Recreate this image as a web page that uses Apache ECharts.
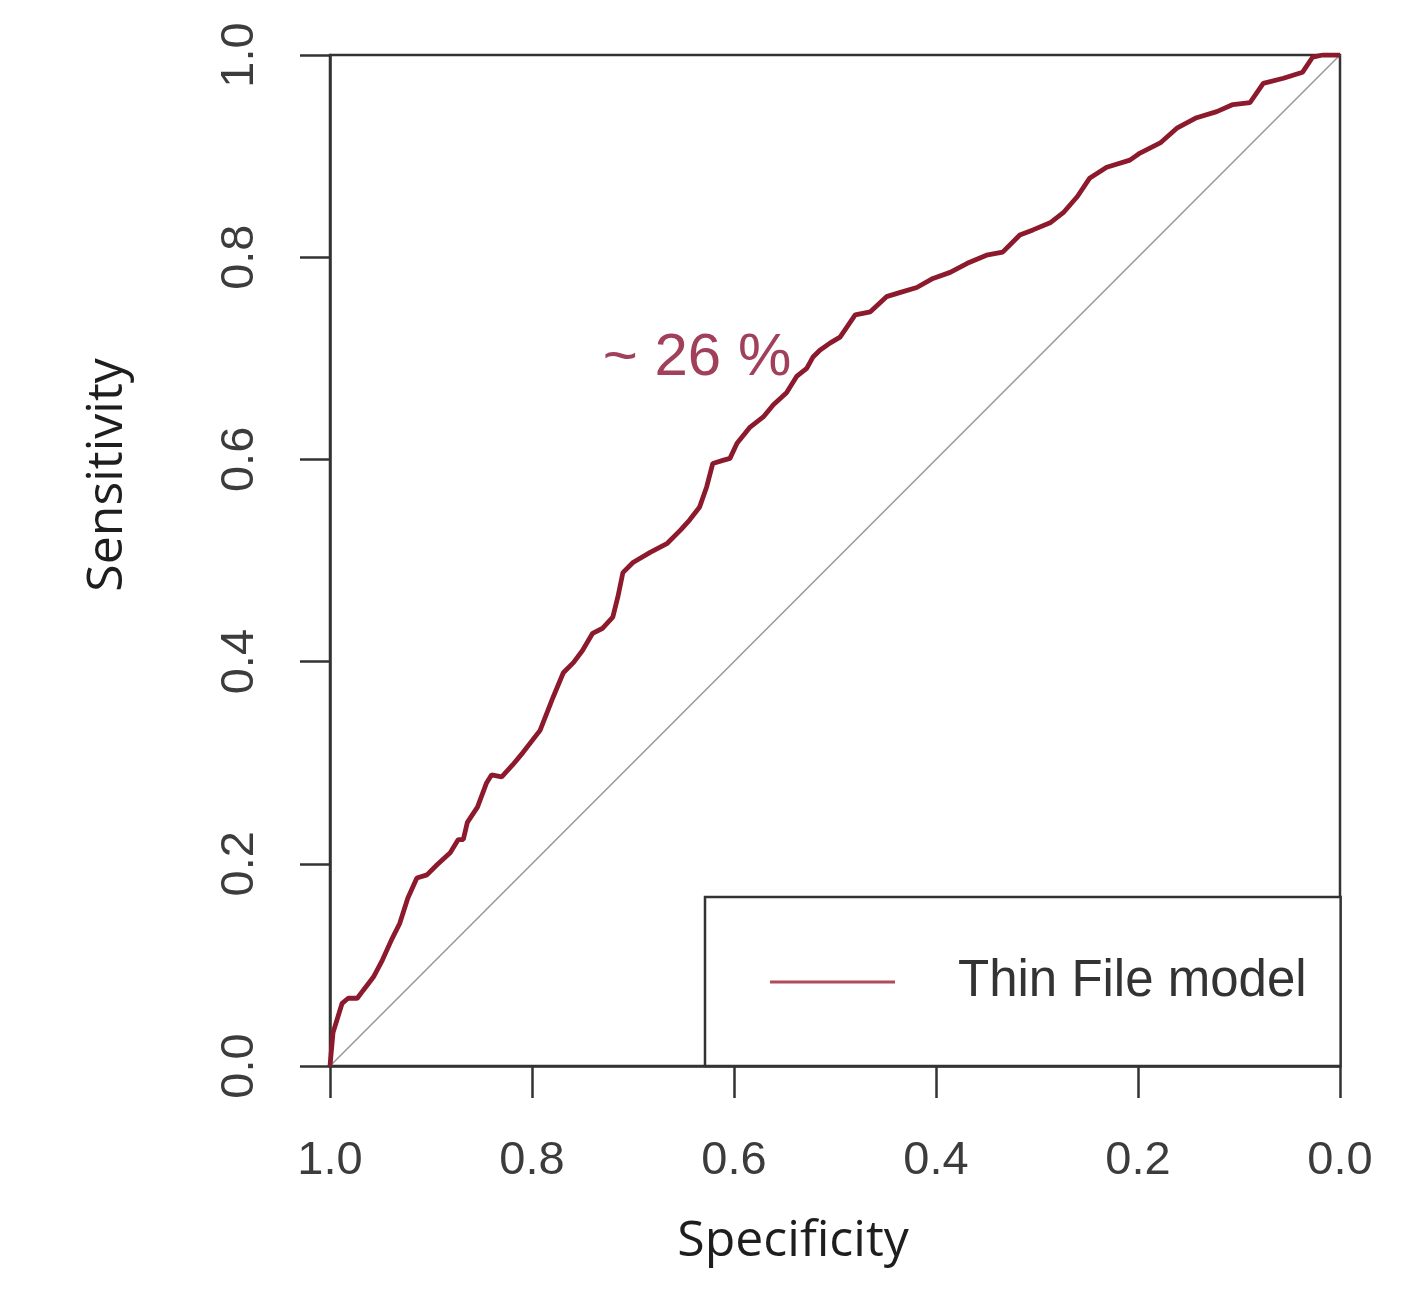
<!DOCTYPE html>
<html>
<head>
<meta charset="utf-8">
<script src="https://cdn.jsdelivr.net/npm/echarts@6/dist/echarts.min.js"></script>
<style>
html,body{margin:0;padding:0;background:#fff;}
#chart{width:1424px;height:1296px;}
</style>
</head>
<body>
<div id="chart"></div>
<script>
// ROC curve points
const specificity = [1.000,0.997,0.988,0.982,0.973,0.967,0.957,0.948,0.939,0.931,0.923,0.914,0.904,0.894,0.881,0.873,0.868,0.864,0.854,0.845,0.840,0.830,0.819,0.809,0.792,0.779,0.769,0.759,0.750,0.740,0.730,0.720,0.715,0.710,0.700,0.683,0.666,0.653,0.644,0.634,0.627,0.621,0.611,0.604,0.597,0.584,0.571,0.561,0.548,0.538,0.528,0.522,0.515,0.505,0.495,0.480,0.465,0.449,0.436,0.419,0.403,0.386,0.369,0.350,0.334,0.317,0.304,0.287,0.274,0.260,0.248,0.231,0.208,0.198,0.178,0.161,0.142,0.122,0.106,0.089,0.076,0.056,0.037,0.027,0.017,0.000];
const sensitivity = [0.000,0.033,0.062,0.067,0.067,0.075,0.088,0.105,0.125,0.141,0.166,0.186,0.189,0.199,0.211,0.224,0.224,0.241,0.256,0.280,0.288,0.286,0.298,0.310,0.332,0.365,0.389,0.399,0.411,0.428,0.433,0.444,0.464,0.488,0.498,0.508,0.517,0.530,0.540,0.553,0.573,0.596,0.599,0.601,0.616,0.632,0.642,0.654,0.666,0.682,0.690,0.701,0.708,0.715,0.721,0.743,0.746,0.761,0.765,0.770,0.779,0.785,0.794,0.802,0.805,0.822,0.827,0.834,0.844,0.860,0.878,0.889,0.896,0.903,0.913,0.928,0.938,0.944,0.951,0.953,0.972,0.977,0.983,0.998,1.000,1.000];
const chanceSpec = [1, 0];
const chanceSens = [0, 1];
const tickValues = [0, 0.2, 0.4, 0.6, 0.8, 1.0];
const seriesName = 'Thin File model';
const annotation = '~ 26 %';
const xTitle = 'Specificity';
const yTitle = 'Sensitivity';

const rocData = specificity.map((s, i) => [s, sensitivity[i]]);
const chanceData = chanceSpec.map((s, i) => [s, chanceSens[i]]);

const axisColor = '#333';
const chart = echarts.init(document.getElementById('chart'));
chart.setOption({
  backgroundColor: '#ffffff',
  animation: false,
  grid: {
    left: 330, top: 55, width: 1010, height: 1011,
    show: true, borderColor: axisColor, borderWidth: 2.5, backgroundColor: 'transparent'
  },
  xAxis: {
    type: 'value', min: 0, max: 1, interval: 0.2, inverse: true, position: 'bottom',
    axisLine: { show: true, onZero: false, lineStyle: { color: axisColor, width: 2.5 } },
    axisTick: { show: true, length: 32, lineStyle: { color: axisColor, width: 2.5 } },
    axisLabel: {
      margin: 72, fontSize: 47, color: '#3c3c3c', fontFamily: 'Liberation Sans',
      formatter: v => v.toFixed(1)
    },
    splitLine: { show: false }
  },
  yAxis: {
    type: 'value', min: 0, max: 1, interval: 0.2, position: 'left',
    axisLine: { show: true, onZero: false, lineStyle: { color: axisColor, width: 2.5 } },
    axisTick: { show: true, length: 30, lineStyle: { color: axisColor, width: 2.5 } },
    axisLabel: {
      margin: 66, fontSize: 47, color: '#3c3c3c', fontFamily: 'Liberation Sans',
      rotate: 90, formatter: v => v.toFixed(1)
    },
    splitLine: { show: false }
  },
  legend: {
    data: [{ name: seriesName, icon: 'rect' }],
    left: 705, top: 897,
    orient: 'horizontal',
    borderColor: axisColor, borderWidth: 2.5, borderRadius: 0,
    backgroundColor: '#fff',
    padding: [54, 34, 53, 65],
    itemWidth: 125, itemHeight: 3,
    itemStyle: { color: '#b04a5e', borderWidth: 0 },
    textStyle: {
      fontSize: 51, fontFamily: 'Liberation Sans', color: '#333',
      lineHeight: 62, padding: [0, 0, 0, 58]
    }
  },
  series: [
    {
      name: 'chance', type: 'line', data: chanceData, symbol: 'none',
      lineStyle: { color: '#9a9a9a', width: 1.6 }, silent: true, z: 1
    },
    {
      name: seriesName, type: 'line', data: rocData, symbol: 'none',
      lineStyle: { color: '#8c1a2c', width: 4.8 }, z: 3
    }
  ],
  graphic: [
    {
      type: 'text', x: 697, y: 358,
      style: {
        text: annotation, fill: '#a0405a', font: '60px "Liberation Sans"',
        textAlign: 'center', textVerticalAlign: 'middle'
      }
    },
    {
      type: 'text', x: 793, y: 1242,
      style: {
        text: xTitle, fill: '#1e1e1e', font: '50px "Open Sans"',
        textAlign: 'center', textVerticalAlign: 'middle'
      }
    },
    {
      type: 'text', x: 108, y: 475, rotation: Math.PI / 2,
      style: {
        text: yTitle, fill: '#1e1e1e', font: '50px "Open Sans"',
        textAlign: 'center', textVerticalAlign: 'middle'
      }
    }
  ]
});
</script>
</body>
</html>
